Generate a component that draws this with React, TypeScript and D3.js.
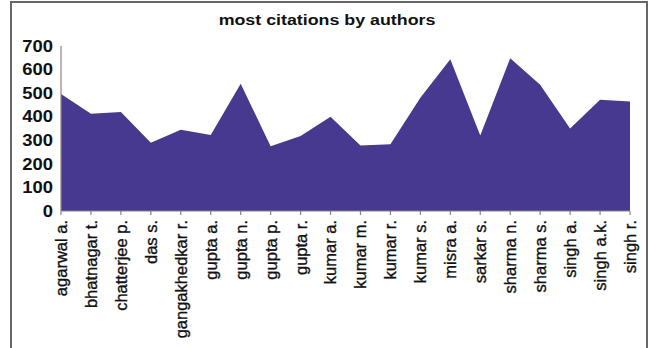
import React from "react";
import * as d3 from "d3";

const authors = [
  "agarwal a.", "bhatnagar t.", "chatterjee p.", "das s.", "gangakhedkar r.",
  "gupta a.", "gupta n.", "gupta p.", "gupta r.", "kumar a.",
  "kumar m.", "kumar r.", "kumar s.", "misra a.", "sarkar s.",
  "sharma n.", "sharma s.", "singh a.", "singh a.k.", "singh r.",
];
const citations = [
  496, 413, 420, 290, 345,
  322, 540, 275, 318, 400,
  278, 283, 480, 644, 320,
  648, 536, 350, 472, 465,
];
const yTicks = [0, 100, 200, 300, 400, 500, 600, 700];
const title = "most citations by authors";

const W = 649;
const H = 348;
const x0 = 61;
const x1 = 630;
const yBase = 211;
const yTop = 46;

export default function App() {
  const x = d3.scalePoint<string>().domain(authors).range([x0, x1]);
  const y = d3.scaleLinear().domain([0, 700]).range([yBase, yTop]);
  const data = authors.map((a, i) => ({ a, v: citations[i] }));
  const area = d3
    .area<{ a: string; v: number }>()
    .x((d) => x(d.a) as number)
    .y0(y(0))
    .y1((d) => y(d.v));

  const font = "'Liberation Sans', Arial, Helvetica, sans-serif";

  return (
    <svg
      width={W}
      height={H}
      style={{ position: "absolute", left: 0, top: 0, background: "#fff" }}
      fontFamily={font}
    >
      <rect x={0} y={0} width={W} height={H} fill="#fff" />
      <rect x={11} y={2} width={636} height={360} fill="none" stroke="#6a6668" strokeWidth={2} />
      <text
        transform={`translate(327,25) scale(1.15,1)`}
        textAnchor="middle"
        fontSize={15.5}
        fontWeight="bold"
        fill="#111"
      >
        {title}
      </text>
      <path d={area(data) || ""} fill="#47398f" />
      <line x1={x0} x2={x0} y1={y(700)} y2={yBase} stroke="#8a8486" strokeWidth={1.2} />
      <line x1={x0} x2={x1} y1={yBase} y2={yBase} stroke="#8a8486" strokeWidth={1.2} />
      {authors.map((a) => (
        <line key={"t" + a} x1={x(a)} x2={x(a)} y1={yBase} y2={yBase + 4} stroke="#8a8486" strokeWidth={1.2} />
      ))}
      {yTicks.map((t) => (
        <text
          key={"y" + t}
          transform={`translate(53,${y(t)}) scale(1.15,1)`}
          textAnchor="end"
          dy="0.36em"
          fontSize={16}
          fontWeight="bold"
          fill="#111"
        >
          {t}
        </text>
      ))}
      {authors.map((a) => (
        <text
          key={"x" + a}
          transform={`translate(${x(a)},${yBase + 9}) rotate(-90)`}
          textAnchor="end"
          dy="0.36em"
          fontSize={16.5}
          fill="#111"
          stroke="#111"
          strokeWidth={0.35}
        >
          {a}
        </text>
      ))}
    </svg>
  );
}
